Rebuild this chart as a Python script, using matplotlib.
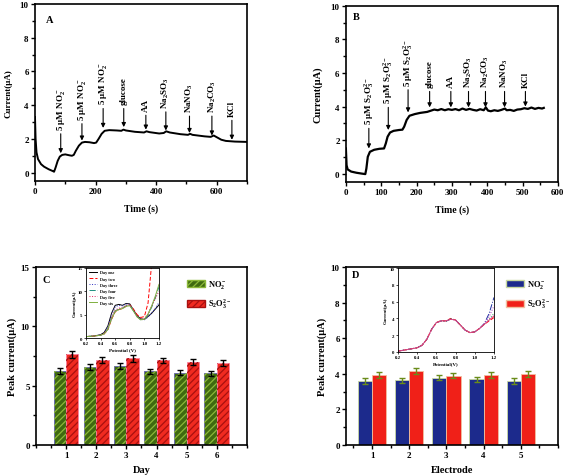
import numpy as np
import matplotlib
matplotlib.use('Agg')
import matplotlib.pyplot as plt
from matplotlib.patches import Patch
from matplotlib.ticker import MultipleLocator

plt.rcParams['font.family'] = ['Liberation Serif', 'DejaVu Serif']
plt.rcParams['font.weight'] = 'bold'
plt.rcParams['axes.labelweight'] = 'bold'
plt.rcParams['mathtext.fontset'] = 'custom'
plt.rcParams['mathtext.rm'] = 'Liberation Serif:bold'
plt.rcParams['mathtext.it'] = 'Liberation Serif:bold:italic'
plt.rcParams['mathtext.bf'] = 'Liberation Serif:bold'
plt.rcParams['mathtext.default'] = 'rm'
plt.rcParams['hatch.linewidth'] = 0.9

# ---- panel A : amperometric response, nitrite ----
tA = [0, 2, 5, 10, 20, 30, 45, 60, 63, 68, 75, 82, 90, 100, 115, 122, 128, 135, 145, 155,
      165, 180, 195, 202, 210, 220, 230, 245, 270, 285, 292, 300, 330, 360, 368, 378, 410,
      425, 433, 445, 480, 505, 512, 520, 560, 580, 590, 600, 615, 630, 660, 700]
iA = [3.3, 2.0, 1.2, 0.8, 0.5, 0.35, 0.2, 0.08, 0.05, 0.3, 0.7, 0.95, 1.05, 1.08, 1.02, 1.0,
      1.05, 1.3, 1.6, 1.78, 1.82, 1.8, 1.75, 1.78, 2.0, 2.3, 2.48, 2.52, 2.5, 2.48, 2.55, 2.5,
      2.42, 2.38, 2.45, 2.4, 2.32, 2.35, 2.45, 2.38, 2.28, 2.24, 2.3, 2.24, 2.15, 2.12, 2.2,
      2.1, 1.95, 1.88, 1.84, 1.82]
labA = ['5 μM NO$_2^-$', '5 μM NO$_2^-$', '5 μM NO$_2^-$', 'glucose', 'AA',
        'Na$_2$SO$_3$', 'NaNO$_3$', 'Na$_2$CO$_3$', 'KCl']
addA = [85, 155, 225, 293, 366, 432, 510, 584, 650]
tipA = [1.15, 1.9, 2.65, 2.7, 2.55, 2.5, 2.35, 2.2, 1.95]
txtA = [2.55, 3.15, 4.05, 4.05, 3.65, 3.85, 3.6, 3.6, 3.35]

# ---- panel B : amperometric response, thiosulfate ----
tB = [0, 2, 5, 15, 30, 45, 55, 58, 62, 68, 80, 95, 108, 113, 118, 125, 135, 150, 160, 165,
      172, 180, 195, 210, 230, 240, 250, 260, 270, 280, 290, 300, 310, 320, 330, 340, 350,
      360, 370, 380, 390, 396, 402, 410, 420, 430, 440, 450, 455, 465, 475, 485, 495, 505,
      515, 525, 535, 545, 555, 560]
iB = [1.5, 0.5, 0.25, 0.12, 0.05, 0.0, -0.03, 0.3, 1.0, 1.3, 1.42, 1.48, 1.5, 1.8, 2.2,
      2.45, 2.55, 2.6, 2.62, 2.8, 3.2, 3.45, 3.55, 3.62, 3.68, 3.75, 3.82, 3.78, 3.85, 3.78,
      3.84, 3.8, 3.85, 3.78, 3.88, 3.8, 3.86, 3.8, 3.76, 3.84, 3.78, 3.95, 3.76, 3.72, 3.78,
      3.74, 3.8, 3.88, 3.78, 3.8, 3.74, 3.82, 3.84, 3.9, 3.86, 3.94, 3.86, 3.92, 3.88, 3.92]
labB = ['5 μM S$_2$O$_3^{2-}$', '5 μM S$_2$O$_3^{2-}$', '5 μM S$_2$O$_3^{2-}$', 'glucose',
        'AA', 'Na$_2$SO$_3$', 'Na$_2$CO$_3$', 'NaNO$_3$', 'KCl']
addB = [65, 120, 176, 237, 297, 347, 395, 449, 508]
tipB = [1.5, 2.6, 3.65, 3.95, 3.95, 3.95, 3.95, 3.95, 4.0]
txtB = [2.95, 4.2, 5.25, 5.15, 5.15, 5.15, 5.15, 5.15, 5.15]

# ---- panel C : stability over days ----
days = [1, 2, 3, 4, 5, 6]
no2_day = [6.25, 6.6, 6.65, 6.2, 6.1, 6.05]
no2_day_err = [0.25, 0.25, 0.25, 0.22, 0.22, 0.22]
s2o3_day = [7.65, 7.15, 7.3, 7.12, 7.03, 6.9]
s2o3_day_err = [0.28, 0.25, 0.28, 0.25, 0.25, 0.25]

# inset C : CVs for each day
potC = [0.2, 0.3, 0.4, 0.45, 0.5, 0.55, 0.6, 0.65, 0.7, 0.75, 0.8, 0.85, 0.9, 0.95, 1.0,
        1.05, 1.1, 1.15, 1.2]
cv_day = {
    'Day one':   [0.3, 0.4, 0.7, 1.2, 2.6, 5.3, 7.0, 7.2, 7.0, 7.4, 7.3, 6.0, 4.8, 4.1, 4.0, 4.6, 5.3, 6.2, 7.1],
    'Day two':   [0.3, 0.4, 0.6, 0.9, 1.8, 4.0, 5.6, 6.1, 6.3, 6.8, 7.1, 6.2, 5.0, 4.4, 4.6, 7.5, 16.0, 18.0, 18.0],
    'Day three': [0.3, 0.4, 0.7, 1.1, 2.4, 5.0, 6.7, 7.0, 6.9, 7.3, 7.2, 5.9, 4.6, 4.0, 3.9, 4.5, 5.4, 6.4, 7.6],
    'Day four':  [0.3, 0.4, 0.6, 0.9, 1.9, 4.2, 5.8, 6.2, 6.4, 6.9, 7.0, 5.8, 4.6, 3.9, 4.0, 5.0, 6.6, 8.6, 11.0],
    'Day five':  [0.3, 0.4, 0.6, 1.0, 2.0, 4.4, 6.0, 6.4, 6.5, 7.0, 7.1, 6.0, 4.7, 4.0, 4.1, 5.2, 6.8, 8.4, 10.0],
    'Day six':   [0.3, 0.4, 0.6, 0.9, 1.9, 4.1, 5.7, 6.1, 6.3, 6.8, 6.9, 5.8, 4.5, 3.9, 4.0, 5.1, 6.9, 9.0, 11.5],
}
cv_day_style = {
    'Day one':   ('black', '-'),
    'Day two':   ('red', (0, (4, 2))),
    'Day three': ('#3030c0', ':'),
    'Day four':  ('#209080', '-.'),
    'Day five':  ('#e02060', ':'),
    'Day six':   ('#80b040', '-'),
}

# ---- panel D : reproducibility over electrodes ----
electrodes = [1, 2, 3, 4, 5]
no2_el = [3.6, 3.63, 3.78, 3.68, 3.6]
no2_el_err = [0.15, 0.15, 0.15, 0.15, 0.15]
s2o3_el = [3.93, 4.16, 3.9, 3.93, 3.98]
s2o3_el_err = [0.15, 0.15, 0.15, 0.15, 0.15]

potD = [0.2, 0.3, 0.4, 0.45, 0.5, 0.55, 0.6, 0.65, 0.7, 0.75, 0.8, 0.85, 0.9, 0.95, 1.0,
        1.05, 1.1, 1.15, 1.2]
cv_el = [
    [0.1, 0.3, 0.5, 0.8, 1.5, 2.7, 3.5, 3.7, 3.65, 3.95, 3.8, 3.2, 2.6, 2.3, 2.4, 2.8, 3.4, 4.6, 6.5],
    [0.1, 0.3, 0.5, 0.8, 1.5, 2.7, 3.5, 3.75, 3.7, 4.0, 3.8, 3.2, 2.6, 2.3, 2.4, 2.8, 3.3, 3.7, 4.1],
    [0.1, 0.3, 0.5, 0.8, 1.5, 2.7, 3.5, 3.7, 3.7, 3.9, 3.8, 3.2, 2.6, 2.3, 2.4, 2.8, 3.4, 4.2, 5.5],
    [0.1, 0.3, 0.5, 0.8, 1.5, 2.7, 3.5, 3.7, 3.65, 3.95, 3.8, 3.2, 2.6, 2.3, 2.4, 2.8, 3.3, 3.9, 4.6],
    [0.1, 0.3, 0.5, 0.8, 1.5, 2.7, 3.5, 3.7, 3.7, 3.9, 3.8, 3.2, 2.6, 2.3, 2.4, 2.8, 3.3, 3.8, 4.3],
]
cv_el_style = [('#2030a0', '-.'), ('red', (0, (4, 2))), ('#a030c0', ':'),
               ('#30a060', ':'), ('#e04080', '-')]


def style_axes(ax, tsize=6.5, lw=1.2):
    for s in ax.spines.values():
        s.set_linewidth(lw)
    ax.tick_params(which='both', direction='out', width=1, labelsize=tsize, top=False,
                   right=False, pad=1.5)
    ax.tick_params(which='major', length=3)
    ax.tick_params(which='minor', length=2)
    for lab in ax.get_xticklabels() + ax.get_yticklabels():
        lab.set_fontweight('bold')


def add_arrows(ax, labels, times, tips, tops):
    for lab, t, tip, ty in zip(labels, times, tips, tops):
        ax.annotate(lab, xy=(t, tip), xytext=(t, ty), rotation=90, ha='center', va='bottom',
                    fontsize=6.5, fontweight='bold',
                    arrowprops=dict(arrowstyle='-|>', color='black', lw=0.8,
                                    mutation_scale=6, shrinkA=1, shrinkB=0))


fig = plt.figure(figsize=(5.67, 4.77), dpi=100)

# A
axA = fig.add_axes([0.0617, 0.6184, 0.374, 0.371])
axA.plot(tA, iA, color='black', lw=1.4)
add_arrows(axA, labA, addA, tipA, txtA)
axA.set_xlim(0, 700)
axA.set_ylim(-0.5, 10)
axA.set_xticks([0, 200, 400, 600])
axA.set_yticks([0, 2, 4, 6, 8, 10])
axA.xaxis.set_minor_locator(MultipleLocator(100))
axA.yaxis.set_minor_locator(MultipleLocator(1))
axA.set_xlabel('Time (s)', fontsize=7, labelpad=6)
axA.set_ylabel('Current(μA)', fontsize=6.5, labelpad=5)
axA.text(0.05, 0.91, 'A', transform=axA.transAxes, fontsize=7.5, fontweight='bold',
         va='center')
style_axes(axA)

# B
axB = fig.add_axes([0.610, 0.6164, 0.374, 0.369])
axB.plot(tB, iB, color='black', lw=1.6)
add_arrows(axB, labB, addB, tipB, txtB)
axB.set_xlim(0, 600)
axB.set_ylim(-0.5, 10)
axB.set_xticks([0, 100, 200, 300, 400, 500, 600])
axB.set_yticks([0, 2, 4, 6, 8, 10])
axB.xaxis.set_minor_locator(MultipleLocator(50))
axB.yaxis.set_minor_locator(MultipleLocator(1))
axB.set_xlabel('Time (s)', fontsize=7, labelpad=6)
axB.set_ylabel('Current(μA)', fontsize=7.5, labelpad=6)
axB.text(0.035, 0.94, 'B', transform=axB.transAxes, fontsize=7.5, fontweight='bold',
         va='center')
style_axes(axB)

# C
axC = fig.add_axes([0.0635, 0.0650, 0.372, 0.3732])
w = 0.41
xc = np.array(days)
g_face, g_hatch = '#3f6a10', '#8cb83a'
r_face, r_hatch = '#f02a20', '#a81010'
axC.bar(xc - w / 2, no2_day, w, color=g_face, edgecolor='#6060b0', lw=0.6)
axC.bar(xc - w / 2, no2_day, w, fill=False, hatch='/////', edgecolor=g_hatch, lw=0)
axC.bar(xc + w / 2, s2o3_day, w, color=r_face, edgecolor='#ff80a0', lw=0.6)
axC.bar(xc + w / 2, s2o3_day, w, fill=False, hatch='/////', edgecolor=r_hatch, lw=0)
axC.errorbar(xc - w / 2, no2_day, yerr=no2_day_err, fmt='none', ecolor='black', elinewidth=1,
             capsize=2, capthick=1)
axC.errorbar(xc + w / 2, s2o3_day, yerr=s2o3_day_err, fmt='none', ecolor='black', elinewidth=1,
             capsize=2, capthick=1)
axC.set_xlim(0, 7)
axC.set_ylim(0, 15)
axC.set_xticks(days)
axC.set_yticks([0, 5, 10, 15])
axC.xaxis.set_minor_locator(MultipleLocator(0.5))
axC.yaxis.set_minor_locator(MultipleLocator(2.5))
axC.set_xlabel('Day', fontsize=7.5, labelpad=4)
axC.set_ylabel('Peak current(μA)', fontsize=7.5, labelpad=3)
axC.text(0.03, 0.93, 'C', transform=axC.transAxes, fontsize=7.5, fontweight='bold',
         va='center')
handlesC = [Patch(facecolor=g_face, edgecolor=g_hatch, hatch='/////', label='NO$_2^-$'),
            Patch(facecolor=r_face, edgecolor=r_hatch, hatch='/////', label='S$_2$O$_3^{2-}$')]
axC.legend(handles=handlesC, loc='upper left', bbox_to_anchor=(0.68, 0.98), frameon=False,
           fontsize=6, handlelength=2.2, handleheight=0.9, labelspacing=0.8, handletextpad=0.3)
style_axes(axC)

# inset C
inC = fig.add_axes([0.1517, 0.2893, 0.1287, 0.1468])
for name, vals in cv_day.items():
    col, ls = cv_day_style[name]
    inC.plot(potC, vals, color=col, ls=ls, lw=0.7, label=name)
inC.set_xlim(0.2, 1.2)
inC.set_ylim(0, 15)
inC.set_xticks([0.2, 0.4, 0.6, 0.8, 1.0, 1.2])
inC.set_yticks([0, 5, 10, 15])
inC.set_xlabel('Potential (V)', fontsize=3.5, labelpad=1)
inC.set_ylabel('Current(μA)', fontsize=3.5, labelpad=1)
inC.legend(loc='upper left', frameon=False, fontsize=3, handlelength=2, labelspacing=0.5,
           borderaxespad=0.2)
style_axes(inC, tsize=3.5, lw=0.6)
inC.tick_params(length=1.5, width=0.5, pad=1)

# D
axD = fig.add_axes([0.6102, 0.0650, 0.3739, 0.3732])
wd = 0.38
xd = np.array(electrodes)
b_face, rd_face = '#1c2a8c', '#f02018'
axD.bar(xd - wd / 2, no2_el, wd, color=b_face, edgecolor='#c8d8a0', lw=0.6)
axD.bar(xd + wd / 2, s2o3_el, wd, color=rd_face, edgecolor='#f0c0a0', lw=0.6)
axD.errorbar(xd - wd / 2, no2_el, yerr=no2_el_err, fmt='none', ecolor='#6a8c1a', elinewidth=1,
             capsize=2, capthick=1)
axD.errorbar(xd + wd / 2, s2o3_el, yerr=s2o3_el_err, fmt='none', ecolor='#6a8c1a', elinewidth=1,
             capsize=2, capthick=1)
axD.set_xlim(0.3, 6)
axD.set_ylim(0, 10)
axD.set_xticks(electrodes)
axD.set_yticks([0, 2, 4, 6, 8, 10])
axD.xaxis.set_minor_locator(MultipleLocator(0.5))
axD.yaxis.set_minor_locator(MultipleLocator(1))
axD.set_xlabel('Electrode', fontsize=7.5, labelpad=4)
axD.set_ylabel('Peak current(μA)', fontsize=7.5, labelpad=3)
axD.text(0.03, 0.96, 'D', transform=axD.transAxes, fontsize=7.5, fontweight='bold',
         va='center')
handlesD = [Patch(facecolor=b_face, edgecolor='#c8d8a0', label='NO$_2^-$'),
            Patch(facecolor=rd_face, edgecolor='#f0c0a0', label='S$_2$O$_3^{2-}$')]
axD.legend(handles=handlesD, loc='upper left', bbox_to_anchor=(0.72, 0.98), frameon=False,
           fontsize=6, handlelength=2.2, handleheight=0.9, labelspacing=0.8, handletextpad=0.3)
style_axes(axD)

# inset D
inD = fig.add_axes([0.7019, 0.2600, 0.1693, 0.176])
for vals, (col, ls) in zip(cv_el, cv_el_style):
    inD.plot(potD, vals, color=col, ls=ls, lw=0.7)
inD.set_xlim(0.2, 1.2)
inD.set_ylim(0, 10)
inD.set_xticks([0.2, 0.4, 0.6, 0.8, 1.0, 1.2])
inD.set_yticks([0, 2, 4, 6, 8, 10])
inD.set_xlabel('Potential(V)', fontsize=3.5, labelpad=1)
inD.set_ylabel('Current(μA)', fontsize=3.5, labelpad=1)
style_axes(inD, tsize=3.5, lw=0.6)
inD.tick_params(length=1.5, width=0.5, pad=1)

fig.savefig('out.png', dpi=100)
